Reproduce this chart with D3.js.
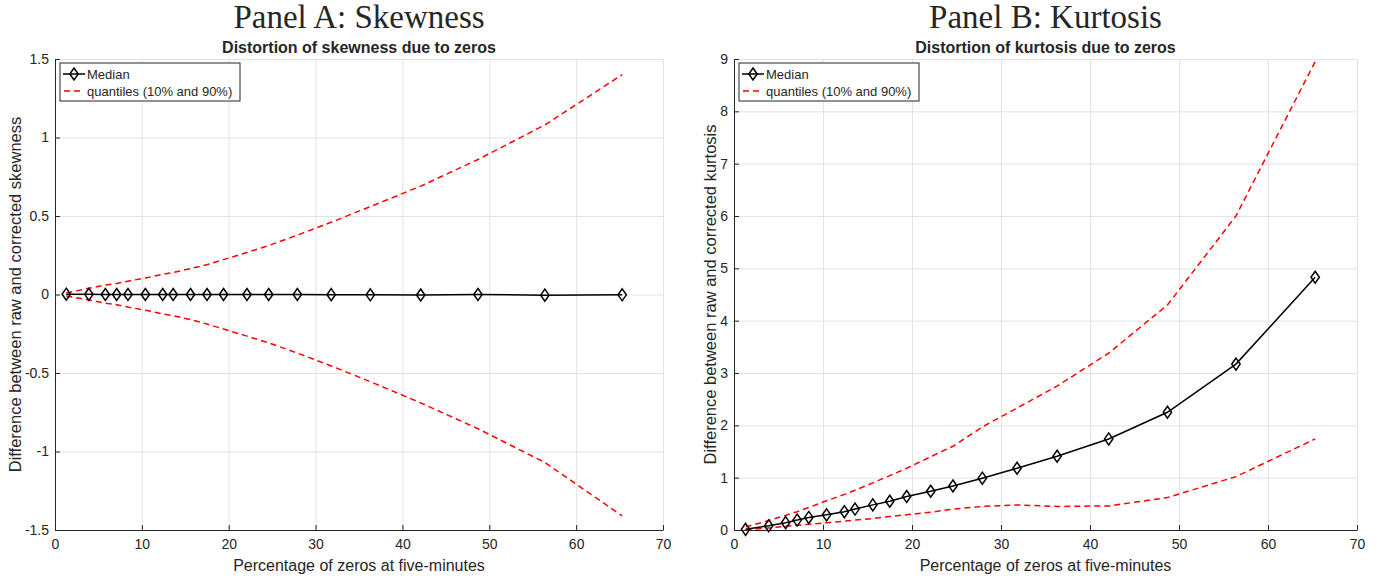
<!DOCTYPE html>
<html>
<head>
<meta charset="utf-8">
<script src="https://cdn.jsdelivr.net/npm/d3@7"></script>
<style>
  body { margin: 0; background: #fff; }
  svg { display: block; }
  text { font-family: "Liberation Sans", Arial, sans-serif; fill: #262626; }
</style>
</head>
<body>
<svg id="fig" width="1390" height="578"></svg>
<script>
// percentage of zeros (x positions of the median markers)
const zeroPct = [1.3, 3.9, 5.8, 7.1, 8.4, 10.4, 12.4, 13.6, 15.6, 17.5, 19.4, 22.1, 24.6, 27.9, 31.8, 36.3, 42.1, 48.7, 56.4, 65.3];

// Panel A: skewness
const skewMedian = [0.002, 0.001, 0, 0, 0, 0, 0, 0, 0, 0, 0, 0, 0, 0, -0.001, -0.002, -0.003, 0, -0.004, -0.002];
const skewQ90 = [0.01, 0.04, 0.06, 0.07, 0.085, 0.105, 0.128, 0.14, 0.165, 0.19, 0.222, 0.268, 0.312, 0.378, 0.46, 0.56, 0.69, 0.86, 1.08, 1.40];
const skewQ10 = [-0.01, -0.035, -0.055, -0.065, -0.08, -0.10, -0.123, -0.135, -0.16, -0.188, -0.22, -0.265, -0.308, -0.373, -0.455, -0.555, -0.69, -0.855, -1.07, -1.41];

// Panel B: kurtosis
const kurtMedian = [0.013, 0.08, 0.14, 0.19, 0.24, 0.29, 0.35, 0.40, 0.48, 0.55, 0.64, 0.74, 0.84, 0.99, 1.18, 1.41, 1.74, 2.25, 3.17, 4.83];
const kurtQ90 = [0.06, 0.18, 0.28, 0.35, 0.43, 0.56, 0.68, 0.76, 0.90, 1.04, 1.18, 1.40, 1.60, 1.97, 2.33, 2.75, 3.38, 4.30, 6.00, 8.95];
const kurtQ10 = [0.0, 0.04, 0.07, 0.09, 0.11, 0.14, 0.17, 0.19, 0.22, 0.26, 0.29, 0.34, 0.40, 0.45, 0.48, 0.45, 0.46, 0.62, 1.02, 1.74];

// tick values
const xTicks = [0, 10, 20, 30, 40, 50, 60, 70];
const skewTicks = [-1.5, -1, -0.5, 0, 0.5, 1, 1.5];
const kurtTicks = [0, 1, 2, 3, 4, 5, 6, 7, 8, 9];

const legendLabels = ['Median', 'quantiles (10% and 90%)'];

class LinePlot {
    constructor( config ) {
        this.config = config;
        this.init();
    }

    init() {
        let self = this;
        const c = self.config;
        self.svg = d3.select('#fig');
        self.chart = self.svg.append('g')
            .attr('transform', `translate(${c.left}, ${c.top})`);
        self.inner_width = c.width;
        self.inner_height = c.height;

        self.xscale = d3.scaleLinear().domain([0, 70]).range([0, self.inner_width]);
        self.yscale = d3.scaleLinear().domain(c.ydomain).range([self.inner_height, 0]);

        // grid
        const grid = self.chart.append('g');
        grid.append('g')
            .call(d3.axisBottom(self.xscale).tickValues(xTicks).tickSize(self.inner_height).tickFormat(''));
        grid.append('g')
            .call(d3.axisLeft(self.yscale).tickValues(c.yticks).tickSize(-self.inner_width).tickFormat(''));
        grid.selectAll('.domain').remove();
        grid.selectAll('text').remove();
        grid.selectAll('line')
            .attr('stroke', '#e3e3e3')
            .attr('stroke-width', 1);

        // axes (ticks point inward)
        self.xaxis_group = self.chart.append('g')
            .attr('transform', `translate(0, ${self.inner_height})`)
            .call(d3.axisBottom(self.xscale).tickValues(xTicks).tickSizeInner(-5).tickSizeOuter(0).tickPadding(9).tickFormat(d => String(d)));
        self.yaxis_group = self.chart.append('g')
            .call(d3.axisLeft(self.yscale).tickValues(c.yticks).tickSizeInner(-5).tickSizeOuter(0).tickPadding(6).tickFormat(d => String(d)));
        [self.xaxis_group, self.yaxis_group].forEach(g => {
            g.selectAll('.domain, .tick line')
                .attr('stroke', '#262626')
                .attr('stroke-width', 1);
            g.selectAll('.tick text')
                .style('font-size', '14px')
                .attr('fill', '#262626');
        });

        // titles
        self.svg.append('text')
            .attr('x', c.left + self.inner_width / 2)
            .attr('y', 28)
            .attr('text-anchor', 'middle')
            .style('font-family', '"Liberation Serif", "Times New Roman", serif')
            .style('font-size', '33px')
            .attr('fill', '#000')
            .text(c.panel);
        self.svg.append('text')
            .attr('x', c.left + self.inner_width / 2)
            .attr('y', 53)
            .attr('text-anchor', 'middle')
            .style('font-size', '16px')
            .style('font-weight', 'bold')
            .attr('fill', '#000')
            .text(c.title);
        self.svg.append('text')
            .attr('x', c.left + self.inner_width / 2)
            .attr('y', c.top + self.inner_height + 41)
            .attr('text-anchor', 'middle')
            .style('font-size', '16px')
            .text('Percentage of zeros at five-minutes');
        self.svg.append('text')
            .attr('transform', `rotate(-90)`)
            .attr('x', -(c.top + self.inner_height / 2))
            .attr('y', c.left - c.ylabelOffset)
            .attr('text-anchor', 'middle')
            .style('font-size', '16.5px')
            .text(c.ylabel);
    }

    render( median, q10, q90 ) {
        let self = this;
        const rows = zeroPct.map((x, i) => ({ x: x, med: median[i], lo: q10[i], hi: q90[i] }));
        const line = key => d3.line()
            .x(d => self.xscale(d.x))
            .y(d => self.yscale(d[key]));

        ['hi', 'lo'].forEach(k => {
            self.chart.append('path')
                .datum(rows)
                .attr('fill', 'none')
                .attr('stroke', '#ff0000')
                .attr('stroke-width', 1.5)
                .attr('stroke-dasharray', '6,4')
                .attr('d', line(k));
        });
        self.chart.append('path')
            .datum(rows)
            .attr('fill', 'none')
            .attr('stroke', '#000')
            .attr('stroke-width', 1.5)
            .attr('d', line('med'));
        self.chart.selectAll('.marker')
            .data(rows)
            .join('path')
            .attr('class', 'marker')
            .attr('d', 'M0,-6L4.2,0L0,6L-4.2,0Z')
            .attr('fill', 'none')
            .attr('stroke', '#000')
            .attr('stroke-width', 1.5)
            .attr('transform', d => `translate(${self.xscale(d.x)}, ${self.yscale(d.med)})`);

        // legend
        const lg = self.chart.append('g').attr('transform', 'translate(5, 4)');
        lg.append('rect')
            .attr('width', 180).attr('height', 38)
            .attr('fill', '#fff')
            .attr('stroke', '#262626')
            .attr('stroke-width', 1);
        lg.append('line')
            .attr('x1', 3).attr('x2', 25).attr('y1', 11).attr('y2', 11)
            .attr('stroke', '#000').attr('stroke-width', 1.5);
        lg.append('path')
            .attr('d', 'M0,-6L4.2,0L0,6L-4.2,0Z')
            .attr('transform', 'translate(14, 11)')
            .attr('fill', 'none').attr('stroke', '#000').attr('stroke-width', 1.5);
        lg.append('line')
            .attr('x1', 4).attr('x2', 24).attr('y1', 28).attr('y2', 28)
            .attr('stroke', '#ff0000').attr('stroke-width', 1.5)
            .attr('stroke-dasharray', '6,4');
        lg.selectAll('.lgtext')
            .data(legendLabels)
            .join('text')
            .attr('class', 'lgtext')
            .attr('x', 27)
            .attr('y', (d, i) => 16 + i * 17)
            .style('font-size', '13px')
            .attr('fill', '#000')
            .text(d => d);
    }
}

const panelA = new LinePlot({
    left: 55, top: 59, width: 608, height: 471,
    ydomain: [-1.5, 1.5], yticks: skewTicks, ylabelOffset: 34,
    panel: 'Panel A: Skewness',
    title: 'Distortion of skewness due to zeros',
    ylabel: 'Difference between raw and corrected skewness'
});
panelA.render(skewMedian, skewQ10, skewQ90);

const panelB = new LinePlot({
    left: 734, top: 59, width: 623, height: 471,
    ydomain: [0, 9], yticks: kurtTicks, ylabelOffset: 18,
    panel: 'Panel B: Kurtosis',
    title: 'Distortion of kurtosis due to zeros',
    ylabel: 'Difference between raw and corrected kurtosis'
});
panelB.render(kurtMedian, kurtQ10, kurtQ90);
</script>
</body>
</html>
